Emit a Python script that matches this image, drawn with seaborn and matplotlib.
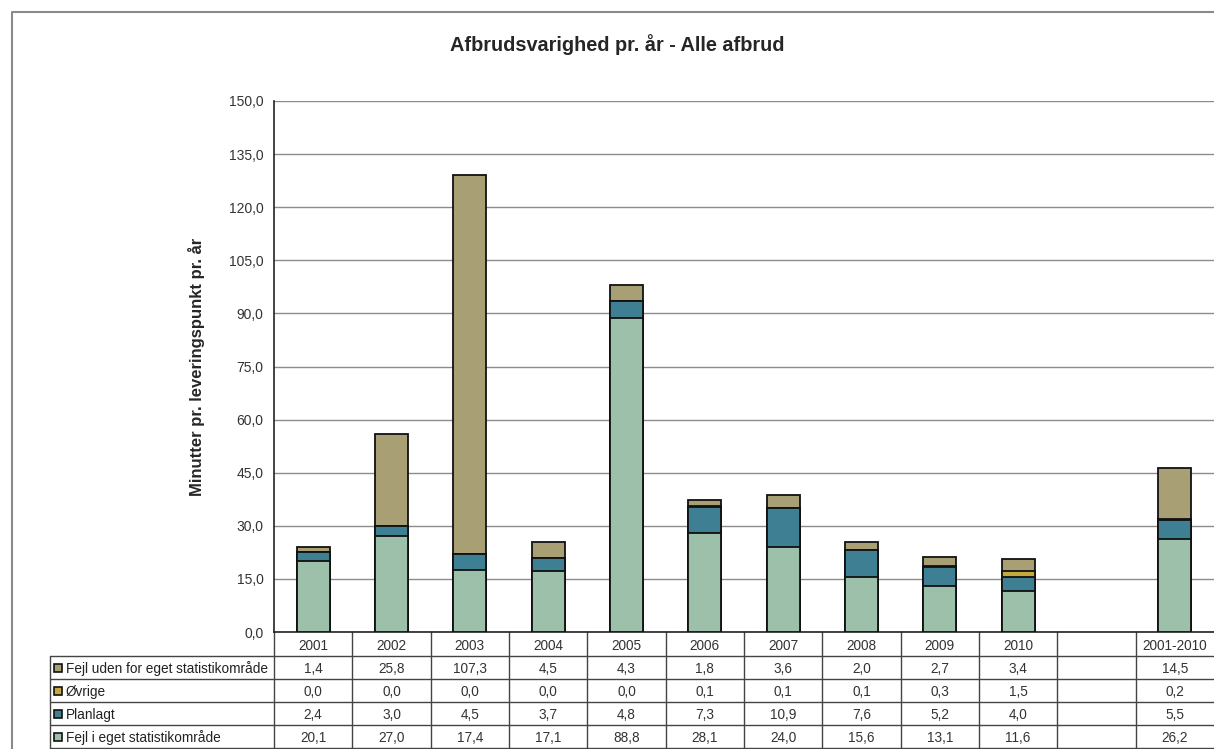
import numpy as np
import pandas as pd
import matplotlib
matplotlib.use("Agg")
import matplotlib.pyplot as plt
import matplotlib.transforms as mtransforms
from matplotlib.lines import Line2D
from matplotlib.patches import Rectangle
import seaborn as sns

categories = ['2001', '2002', '2003', '2004', '2005', '2006', '2007', '2008', '2009', '2010', ' ', '2001-2010']
series_names = ['Fejl uden for eget statistikområde', 'Øvrige', 'Planlagt', 'Fejl i eget statistikområde']
fejl_uden = [1.4, 25.8, 107.3, 4.5, 4.3, 1.8, 3.6, 2.0, 2.7, 3.4, np.nan, 14.5]
oevrige = [0.0, 0.0, 0.0, 0.0, 0.0, 0.1, 0.1, 0.1, 0.3, 1.5, np.nan, 0.2]
planlagt = [2.4, 3.0, 4.5, 3.7, 4.8, 7.3, 10.9, 7.6, 5.2, 4.0, np.nan, 5.5]
fejl_eget = [20.1, 27.0, 17.4, 17.1, 88.8, 28.1, 24.0, 15.6, 13.1, 11.6, np.nan, 26.2]
colors = ['#A99F75', '#C6A83C', '#3F7F93', '#9DC0AA']

sns.set_style("white")
plt.rcParams['font.family'] = ['Liberation Sans', 'DejaVu Sans']

W, H = 1214, 749
fig = plt.figure(figsize=(W / 100, H / 100), dpi=100)
fig.patch.set_facecolor('white')

# outer frame (left and top edges visible)
fig.add_artist(Line2D([12 / W, 12 / W, 1], [0, 1 - 12 / H, 1 - 12 / H],
                      transform=fig.transFigure, color='#8a8a8a', lw=1.5))

ax = fig.add_axes([274 / W, 117 / H, 940 / W, 531 / H])

df = pd.DataFrame({'cat': categories, 'uden': fejl_uden, 'ovr': oevrige,
                   'plan': planlagt, 'eget': fejl_eget})
df['c1'] = df['eget']
df['c2'] = df['c1'] + df['plan']
df['c3'] = df['c2'] + df['ovr']
df['c4'] = df['c3'] + df['uden']
plot_df = df[df['cat'] != ' ']

# stacked bars: draw cumulative totals from the top layer down
for col, color in zip(['c4', 'c3', 'c2', 'c1'], colors):
    sns.barplot(data=plot_df, x='cat', y=col, order=categories, color=color,
                width=0.42, edgecolor='#111111', linewidth=1.3, saturation=1,
                ax=ax, zorder=3)

ax.set_xlim(-0.5, len(categories) - 0.5)
ax.set_ylim(0, 150)
ax.set_yticks(np.arange(0, 151, 15))
ax.set_yticklabels([f"{v:.1f}".replace('.', ',') for v in np.arange(0, 151, 15)],
                   fontsize=10, color='#333333')
ax.set_xticks([])
ax.set_xlabel('')
ax.set_ylabel('Minutter pr. leveringspunkt pr. år', fontsize=12, fontweight='bold',
              labelpad=17)
ax.yaxis.grid(True, color='#8c8c8c', lw=1)
ax.set_axisbelow(True)
ax.tick_params(axis='y', direction='inout', length=7, width=1, color='#222222', pad=4)
for s in ['top', 'right']:
    ax.spines[s].set_visible(False)
for s in ['left', 'bottom']:
    ax.spines[s].set_color('#222222')
    ax.spines[s].set_linewidth(1.2)

fig.text(617 / W, 1 - 45 / H, 'Afbrudsvarighed pr. år - Alle afbrud',
         ha='center', va='center', fontsize=14.3, fontweight='bold')

# data table under the plot
tr = mtransforms.blended_transform_factory(ax.transData, fig.transFigure)
slot = 940 / len(categories)
label_left = -0.5 - (274 - 50) / slot
row_px = [632, 656, 679, 702, 725, 748]
fy = lambda py: 1 - py / H
line_kw = dict(color='#444444', lw=1, clip_on=False, transform=tr)

for py in row_px[1:]:
    ax.add_line(Line2D([label_left, len(categories) - 0.5], [fy(py), fy(py)], **line_kw))
for i in range(len(categories)):
    ax.add_line(Line2D([i - 0.5, i - 0.5], [fy(632), fy(748)], **line_kw))
ax.add_line(Line2D([label_left, label_left], [fy(656), fy(748)], **line_kw))

fs = 9.8
for i, c in enumerate(categories):
    ax.text(i, fy((row_px[0] + row_px[1]) / 2), c.strip(), transform=tr,
            ha='center', va='center_baseline', fontsize=fs, color='#333333')

rows = [fejl_uden, oevrige, planlagt, fejl_eget]
for r, (name, vals, color) in enumerate(zip(series_names, rows, colors)):
    yc = fy((row_px[r + 1] + row_px[r + 2]) / 2)
    ax.add_patch(Rectangle((label_left + 4 / slot, yc - 4 / H), 8 / slot, 8 / H,
                           facecolor=color, edgecolor='#111111', lw=1.2,
                           transform=tr, clip_on=False))
    ax.text(label_left + 16 / slot, yc, name, transform=tr, ha='left',
            va='center_baseline', fontsize=fs, color='#222222')
    for i, v in enumerate(vals):
        if np.isnan(v):
            continue
        ax.text(i, yc, f"{v:.1f}".replace('.', ','), transform=tr,
                ha='center', va='center_baseline', fontsize=fs, color='#333333')

fig.savefig('out.png', dpi=100)
